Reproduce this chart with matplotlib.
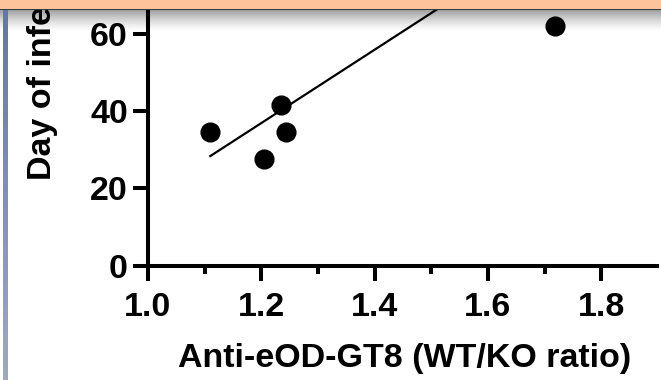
import numpy as np
import matplotlib
matplotlib.use('Agg')
import matplotlib.pyplot as plt
from matplotlib.patches import Rectangle

plt.rcParams['font.family'] = ['Liberation Sans', 'DejaVu Sans']
plt.rcParams['font.weight'] = 'bold'

# values
ratio = [1.11, 1.205, 1.235, 1.243, 1.718]
day = [34.5, 27.5, 41.5, 34.5, 62]
# regression line as drawn (slope / intercept)
fit_slope = 95.0
fit_intercept = -77.1

x_major = [1.0, 1.2, 1.4, 1.6, 1.8]
x_minor = [1.1, 1.3, 1.5, 1.7]
y_major = [0, 20, 40, 60]

W, H = 661, 380
fig = plt.figure(figsize=(W / 100, H / 100), dpi=100)
ax = fig.add_axes([148 / W, (H - 265.5) / H, (657 - 148) / W, 265.5 / H])

ax.plot(ratio, day, 'o', color='black', ms=13.5, clip_on=False, zorder=3)
fx = np.array([min(ratio), max(ratio)])
ax.plot(fx, fit_slope * fx + fit_intercept, color='black', lw=1.6)

ax.set_xlim(1.0, 1.0 + (657 - 148) / 566.5)
ax.set_ylim(0, 265.5 / 3.86)
ax.set_xticks(x_major)
ax.set_xticklabels([f'{v:.1f}' for v in x_major])
ax.set_xticks(x_minor, minor=True)
ax.set_yticks(y_major)

for s in ['top', 'right']:
    ax.spines[s].set_visible(False)
for s in ['left', 'bottom']:
    ax.spines[s].set_linewidth(2.9)
ax.tick_params(which='major', length=10.5, width=2.9, labelsize=24.5, pad=4)
ax.tick_params(axis='x', which='major', pad=8.5)
ax.tick_params(which='minor', length=6, width=2.9)

ax.set_xlabel('Anti-eOD-GT8 (WT/KO ratio)', fontsize=24.5, fontweight='bold')
ax.xaxis.set_label_coords((405 - 148) / (657 - 148), -(358 - 265.5) / 265.5)
ax.xaxis.label.set_va('center')
fig.text(43 / W, (H - 180) / H, 'Day of infection', rotation=90,
         ha='center', va='bottom', fontsize=24.5, fontweight='bold')

# screenshot frame: peach bar with shadow on top, slate strip on the left
ov = fig.add_axes([0, 0, 1, 1], zorder=10)
ov.set_xlim(0, W)
ov.set_ylim(H, 0)
ov.axis('off')
shade = np.zeros((40, 1, 4))
shade[:, 0, 3] = np.linspace(0.5, 0.0, 40) ** 1.4
ov.imshow(shade, extent=(0, W, 32, 10), aspect='auto', interpolation='bilinear')
ov.add_patch(Rectangle((0, 0), W, 8.5, color='#fdc49b', lw=0))
ov.add_patch(Rectangle((0, 8.5), W, 1.5, color='#3a3a3a', lw=0))
strip = np.linspace([0.38, 0.47, 0.66], [0.64, 0.66, 0.76], 100).reshape(100, 1, 3)
ov.imshow(strip, extent=(3, 7.5, H, 10), aspect='auto', interpolation='bilinear')
ov.set_xlim(0, W)
ov.set_ylim(H, 0)

fig.savefig('out.png', dpi=100)
